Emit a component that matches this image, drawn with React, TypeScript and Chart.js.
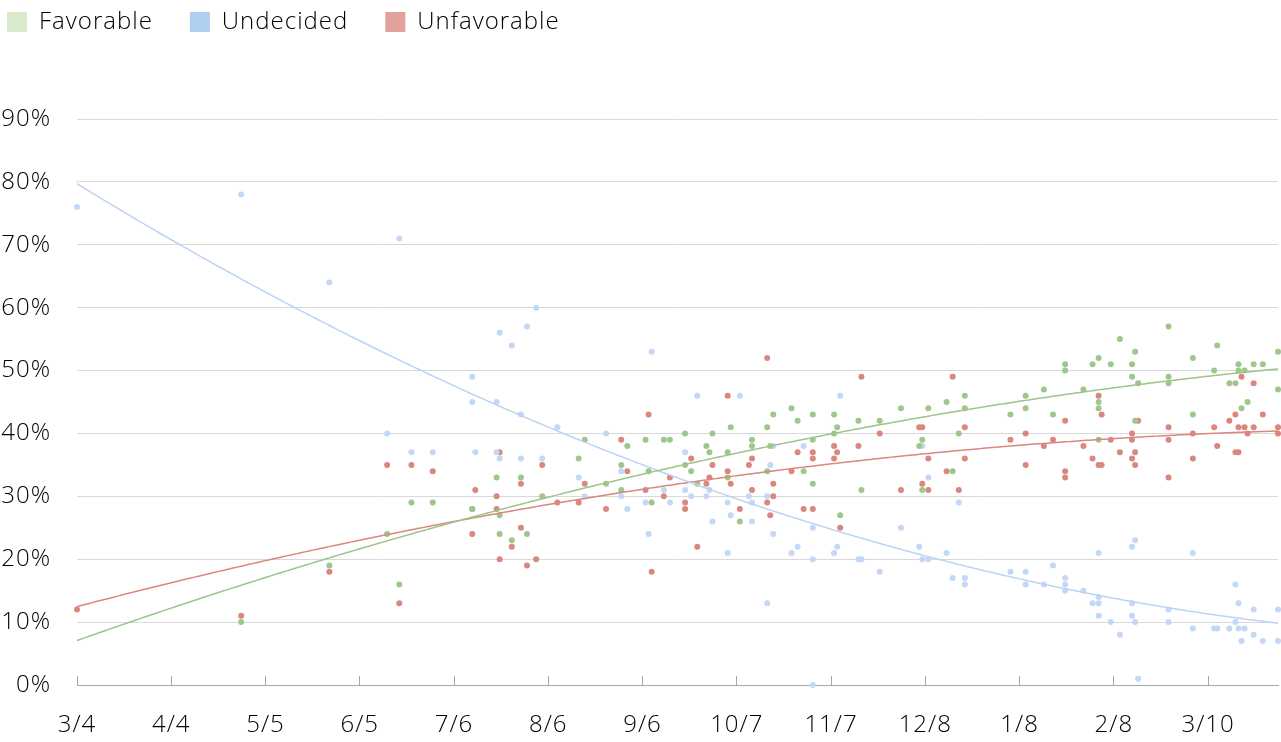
import React, { useEffect, useRef } from "react";
import { Chart, registerables } from "chart.js";

Chart.register(...registerables);

// x = days since 3/4/2015, y = percent
const favorablePoints: [number, number][] = [
  [54, 10], [83, 19], [102, 24], [106, 16], [110, 29], [117, 29],
  [167, 39], [181, 38], [187, 39], [193, 39], [195, 39], [200, 40], [165, 36], [179, 35], [200, 35],
  [188, 34], [138, 33], [146, 33], [174, 32], [153, 30], [179, 31], [189, 29], [139, 27], [139, 24],
  [148, 24], [143, 23], [130, 28],
  [202, 34], [204, 32], [207, 38], [208, 37], [209, 40], [214, 37], [214, 33], [215, 41], [218, 26],
  [222, 39], [222, 38], [227, 41], [227, 34], [228, 38], [229, 43], [235, 44], [237, 42], [239, 34],
  [242, 43], [242, 32], [242, 39], [249, 43], [250, 41], [249, 40], [251, 27],
  [257, 42], [264, 42], [271, 44], [280, 44], [286, 45], [292, 46], [292, 44], [278, 39], [277, 38],
  [290, 40], [258, 31], [278, 31], [288, 34], [307, 43], [312, 44], [312, 46], [318, 47], [321, 43],
  [325, 51], [325, 50], [331, 47], [334, 51], [336, 52], [340, 51], [336, 45], [336, 44], [336, 39],
  [343, 55], [347, 51], [348, 53], [347, 49], [349, 48], [348, 42], [359, 57], [359, 49], [359, 48],
  [367, 52], [367, 43], [374, 50], [375, 54], [379, 48], [381, 48], [382, 51], [382, 50], [384, 50],
  [387, 51], [390, 51], [383, 44], [385, 45], [395, 53], [395, 47],
];

const undecidedPoints: [number, number][] = [
  [0, 76], [54, 78], [106, 71], [83, 64], [102, 40], [110, 37], [117, 37],
  [151, 60], [139, 56], [148, 57], [143, 54], [189, 53], [130, 49], [130, 45], [138, 45], [146, 43],
  [158, 41], [174, 40], [200, 37], [131, 37], [138, 37], [139, 36], [146, 36], [153, 36], [165, 33],
  [179, 34], [167, 30], [179, 30], [181, 28], [187, 29], [193, 31], [195, 29], [200, 31], [188, 24],
  [204, 46], [218, 46], [251, 46], [229, 38], [239, 38], [228, 35], [202, 30], [207, 30], [208, 31],
  [214, 29], [221, 30], [222, 29], [227, 30], [215, 27], [209, 26], [222, 26], [229, 24], [242, 25],
  [214, 21], [235, 21], [237, 22], [242, 20], [249, 21], [250, 22], [227, 13], [242, 0],
  [278, 38], [280, 33], [290, 29], [271, 25], [257, 20], [258, 20], [264, 18], [277, 22], [278, 20],
  [280, 20], [286, 21], [288, 17], [292, 17], [292, 16], [307, 18], [312, 18], [312, 16], [318, 16],
  [321, 19],
  [325, 17], [325, 16], [325, 15], [331, 15], [334, 13], [336, 13], [336, 14], [336, 11], [336, 21],
  [340, 10], [343, 8], [347, 22], [348, 23], [347, 13], [347, 11], [348, 10], [349, 1], [359, 12],
  [359, 10], [367, 21], [367, 9], [374, 9], [375, 9], [379, 9], [381, 16], [382, 13], [381, 10],
  [382, 9], [384, 9], [383, 7], [387, 8], [387, 12], [390, 7], [395, 12], [395, 7],
];

const unfavorablePoints: [number, number][] = [
  [0, 12], [54, 11], [83, 18], [102, 35], [106, 13], [110, 35], [117, 34],
  [139, 37], [188, 43], [179, 39], [181, 34], [153, 35], [146, 32], [131, 31], [167, 32], [195, 33],
  [130, 28], [138, 30], [138, 28], [158, 29], [165, 29], [174, 28], [187, 31], [193, 30], [200, 29],
  [200, 28], [130, 24], [146, 25], [143, 22], [139, 20], [148, 19], [151, 20], [189, 18],
  [227, 52], [214, 46], [202, 36], [209, 35], [208, 33], [207, 32], [214, 34], [215, 32], [221, 35],
  [222, 36], [222, 31], [229, 32], [229, 30], [227, 29], [228, 27], [218, 28], [235, 34], [237, 37],
  [242, 37], [242, 36], [249, 38], [250, 37], [249, 36], [239, 28], [242, 28], [251, 25], [204, 22],
  [258, 49], [288, 49], [257, 38], [264, 40], [277, 41], [278, 41], [292, 41], [280, 36], [292, 36],
  [286, 34], [278, 32], [271, 31], [280, 31], [290, 31], [307, 39], [312, 40], [312, 35], [318, 38],
  [321, 39],
  [325, 42], [325, 34], [325, 33], [331, 38], [334, 36], [336, 35], [337, 35], [336, 46], [337, 43],
  [340, 39], [343, 37], [347, 40], [347, 39], [348, 37], [347, 36], [348, 35], [349, 42], [359, 41],
  [359, 39], [359, 33], [367, 40], [367, 36], [374, 41], [375, 38], [379, 42], [381, 43], [381, 37],
  [382, 37], [382, 41], [383, 49], [384, 41], [385, 40], [387, 48], [387, 41], [390, 43], [395, 41],
  [395, 40],
];

const seriesNames = ["Favorable", "Undecided", "Unfavorable"];
const xTickLabels = ["3/4", "4/4", "5/5", "6/5", "7/6", "8/6", "9/6", "10/7", "11/7", "12/8", "1/8", "2/8", "3/10"];
const X_MAX_DAYS = 395;
const TICK_STEP_DAYS = 31;
const TREND_DEGREE = 2;

const dotColors = ["#9fc78b", "#c3d7f6", "#d9877f"];
const lineColors = ["#9cc58a", "#bdd3f4", "#d9877f"];
const legendColors = ["#d9e9cc", "#afcff0", "#e2a19c"];

const FONT = "'Open Sans', 'Noto Sans', sans-serif";
const TEXT = "#000000";
const LEGEND_ITEM_GAP = 37;

function polyFit(points: [number, number][], degree: number): number[] {
  const n = degree + 1;
  const S = 100; // scale x for numerical stability
  const A: number[][] = Array.from({ length: n }, () => new Array(n + 1).fill(0));
  for (const [x0, y] of points) {
    const x = x0 / S;
    for (let r = 0; r < n; r++) {
      for (let c = 0; c < n; c++) A[r][c] += Math.pow(x, r + c);
      A[r][n] += y * Math.pow(x, r);
    }
  }
  for (let i = 0; i < n; i++) {
    let p = i;
    for (let k = i + 1; k < n; k++) if (Math.abs(A[k][i]) > Math.abs(A[p][i])) p = k;
    [A[i], A[p]] = [A[p], A[i]];
    for (let k = i + 1; k < n; k++) {
      const f = A[k][i] / A[i][i];
      for (let c = i; c <= n; c++) A[k][c] -= f * A[i][c];
    }
  }
  const coef = new Array(n).fill(0);
  for (let i = n - 1; i >= 0; i--) {
    let s = A[i][n];
    for (let c = i + 1; c < n; c++) s -= A[i][c] * coef[c];
    coef[i] = s / A[i][i];
  }
  return coef.map((c, i) => c / Math.pow(S, i));
}

function trendData(points: [number, number][]) {
  const coef = polyFit(points, TREND_DEGREE);
  const out: { x: number; y: number }[] = [];
  for (let d = 0; d <= X_MAX_DAYS; d += 1) {
    out.push({ x: d, y: coef.reduce((s, c, i) => s + c * Math.pow(d, i), 0) });
  }
  return out;
}

export default function App() {
  const ref = useRef<HTMLCanvasElement | null>(null);

  useEffect(() => {
    document.body.style.margin = "0";
    const canvas = ref.current;
    if (!canvas) return;
    const all = [favorablePoints, undecidedPoints, unfavorablePoints];

    const pointSets = all.map((pts, i) => ({
      label: seriesNames[i],
      data: pts.map(([x, y]) => ({ x, y })),
      showLine: false,
      backgroundColor: dotColors[i],
      pointBackgroundColor: dotColors[i],
      pointBorderWidth: 0,
      pointRadius: 3,
      pointHoverRadius: 3,
      clip: false as any,
      order: 2,
    }));
    const trendSets = all.map((pts, i) => ({
      label: "trend-" + seriesNames[i],
      data: trendData(pts),
      showLine: true,
      borderColor: lineColors[i],
      backgroundColor: lineColors[i],
      borderWidth: 1.5,
      pointRadius: 0,
      pointHoverRadius: 0,
      tension: 0,
      fill: false,
      order: 1,
    }));

    const setSpacing = (chart: any) => {
      try {
        chart.ctx.letterSpacing = "1px";
      } catch (e) {}
    };

    const legendSpacer = {
      id: "legendSpacer",
      beforeLayout(chart: any) {
        setSpacing(chart);
        const lg = chart.legend;
        if (lg && !lg.__patched) {
          const orig = lg.fit.bind(lg);
          lg.fit = function () {
            orig();
            this.height = 119;
          };
          lg.__patched = true;
        }
      },
      afterLayout(chart: any) {
        const lg = chart.legend;
        if (lg) {
          lg.left = 7 - LEGEND_ITEM_GAP;
          lg.top = 10 - LEGEND_ITEM_GAP;
        }
      },
      beforeDraw(chart: any) {
        setSpacing(chart);
      },
    };

    const baseGen = (Chart as any).defaults.plugins.legend.labels.generateLabels;

    const chart = new Chart(canvas, {
      type: "scatter",
      data: { datasets: [...pointSets, ...trendSets] as any },
      plugins: [legendSpacer],
      options: {
        responsive: false,
        animation: false,
        events: [],
        layout: { padding: 0 },
        plugins: {
          tooltip: { enabled: false },
          legend: {
            position: "top",
            align: "start",
            labels: {
              boxWidth: 20,
              boxHeight: 20,
              padding: LEGEND_ITEM_GAP,
              color: TEXT,
              font: { family: FONT, size: 24, weight: 300 as any },
              generateLabels: (chart: any) =>
                baseGen(chart)
                  .filter((it: any) => it.datasetIndex < seriesNames.length)
                  .map((it: any) => ({
                    ...it,
                    fillStyle: legendColors[it.datasetIndex],
                    strokeStyle: legendColors[it.datasetIndex],
                    lineWidth: 0,
                  })),
            },
          },
        },
        scales: {
          x: {
            type: "linear",
            min: 0,
            max: X_MAX_DAYS,
            afterFit: (s: any) => {
              s.height = 57;
            },
            grid: {
              drawOnChartArea: false,
              drawTicks: true,
              tickLength: -9,
              color: "#a6a6a6",
              lineWidth: 1,
            },
            border: { display: true, color: "#a6a6a6", width: 1 },
            ticks: {
              stepSize: TICK_STEP_DAYS,
              includeBounds: false,
              autoSkip: false,
              maxRotation: 0,
              padding: 35,
              color: TEXT,
              font: { family: FONT, size: 24, weight: 300 as any },
              callback: (_v: any, i: number) => xTickLabels[i] ?? "",
            },
          },
          y: {
            type: "linear",
            min: 0,
            max: 90,
            afterFit: (s: any) => {
              s.width = 77;
            },
            grid: { color: "#d9d9d9", lineWidth: 1, drawTicks: false },
            border: { display: false },
            ticks: {
              stepSize: 10,
              padding: 26,
              color: TEXT,
              font: { family: FONT, size: 24, weight: 300 as any },
              callback: (v: any) => v + "%",
            },
          },
        },
      },
    });
    return () => chart.destroy();
  }, []);

  return (
    <div style={{ width: 1281, height: 742, overflow: "hidden" }}>
      <canvas ref={ref} width={1281} height={742} style={{ display: "block" }} />
    </div>
  );
}
